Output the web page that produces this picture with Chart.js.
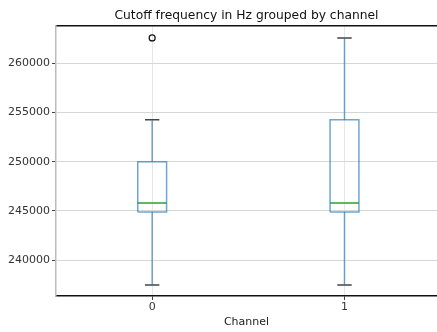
<!DOCTYPE html>
<html>
<head>
<meta charset="utf-8">
<script src="https://cdn.jsdelivr.net/npm/chart.js@4"></script>
<style>
  html, body { margin: 0; padding: 0; background: #fff; }
  #wrap { width: 437px; height: 332px; }
</style>
</head>
<body>
<div id="wrap"><canvas id="canvasBox"></canvas></div>
<script>
// values
const channels = [0, 1];
const lowerWhisker = [237470, 237470];
const q1 = [244900, 244900];
const median = [245800, 245800];
const q3 = [250000, 254260];
const upperWhisker = [254260, 262580];
const outliers = [[262580], []];
const yTicks = [240000, 245000, 250000, 255000, 260000];

const boxHalf = 0.075;
const capHalf = 0.0375;
const boxColor = "rgba(31, 119, 180, 0.65)";

Chart.defaults.font.family = "'DejaVu Sans', sans-serif";

const ctx = document.getElementById("canvasBox").getContext("2d");

const make_datasets = () => {
  const sets = [];
  channels.forEach((c, i) => {
    // whiskers
    sets.push({
      data: [
        { x: c, y: q3[i] }, { x: c, y: upperWhisker[i] }, { x: c, y: null },
        { x: c, y: q1[i] }, { x: c, y: lowerWhisker[i] }
      ],
      borderColor: boxColor,
      borderWidth: 1.5,
    });
    // caps
    sets.push({
      data: [
        { x: c - capHalf, y: upperWhisker[i] }, { x: c + capHalf, y: upperWhisker[i] }, { x: c, y: null },
        { x: c - capHalf, y: lowerWhisker[i] }, { x: c + capHalf, y: lowerWhisker[i] }
      ],
      borderColor: "#444",
      borderWidth: 1.5,
    });
    // box
    sets.push({
      data: [
        { x: c - boxHalf, y: q1[i] }, { x: c + boxHalf, y: q1[i] },
        { x: c + boxHalf, y: q3[i] }, { x: c - boxHalf, y: q3[i] },
        { x: c - boxHalf, y: q1[i] }
      ],
      borderColor: boxColor,
      borderWidth: 1.5,
    });
    // median
    sets.push({
      data: [{ x: c - boxHalf, y: median[i] }, { x: c + boxHalf, y: median[i] }],
      borderColor: "#2ca02c",
      borderWidth: 1.5,
    });
    // fliers
    sets.push({
      data: outliers[i].map(v => ({ x: c, y: v })),
      showLine: false,
      pointRadius: 3,
      pointBorderColor: "#111",
      pointBackgroundColor: "rgba(255,255,255,0)",
      pointBorderWidth: 1.2,
    });
  });
  return sets.map(s => Object.assign({
    pointRadius: 0,
    tension: 0,
    spanGaps: false,
    fill: false,
  }, s));
};

new Chart(ctx, {
  type: "line",
  data: { datasets: make_datasets() },
  options: {
    responsive: true,
    maintainAspectRatio: false,
    animation: false,
    layout: { autoPadding: false, padding: 0 },
    plugins: {
      legend: { display: false },
      tooltip: { enabled: false },
      title: {
        display: true,
        fullSize: false,
        text: "Cutoff frequency in Hz grouped by channel",
        color: "#111",
        font: { size: 12.3, weight: "normal" },
        padding: { top: 8, bottom: 3 },
        align: "center",
      },
    },
    scales: {
      x: {
        type: "linear",
        position: "bottom",
        min: -0.5,
        max: 1.481,
        afterBuildTicks: (scale) => {
          scale.ticks = channels.map(v => ({ value: v }));
        },
        afterFit: (scale) => { scale.height = 36; },
        ticks: {
          color: "#333",
          font: { size: 11 },
          padding: 1,
          maxRotation: 0,
          callback: (v) => String(v),
        },
        grid: {
          color: "#e6e6e6",
          lineWidth: 1,
          tickColor: "#444",
          tickLength: 4,
        },
        border: { display: true, color: "#111", width: 1.5 },
        title: {
          display: true,
          text: "Channel",
          color: "#222",
          font: { size: 11 },
          padding: { top: 0, bottom: 3 },
        },
      },
      xTop: {
        type: "linear",
        position: "top",
        min: -0.5,
        max: 1.481,
        afterFit: (scale) => { scale.height = 0; },
        ticks: { display: false },
        grid: { display: false, drawTicks: false },
        border: { display: true, color: "#111", width: 1.5 },
      },
      y: {
        type: "linear",
        position: "left",
        min: 236350,
        max: 263820,
        afterBuildTicks: (scale) => {
          scale.ticks = yTicks.map(v => ({ value: v }));
        },
        afterFit: (scale) => { scale.width = 56; },
        ticks: {
          color: "#333",
          font: { size: 11 },
          padding: 2,
          callback: (v) => String(v),
        },
        grid: {
          color: "#d6d6d6",
          lineWidth: 1,
          tickColor: "#444",
          tickLength: 4,
        },
        border: { display: true, color: "#bbb", width: 1.5 },
      },
    },
  },
});
</script>
</body>
</html>
